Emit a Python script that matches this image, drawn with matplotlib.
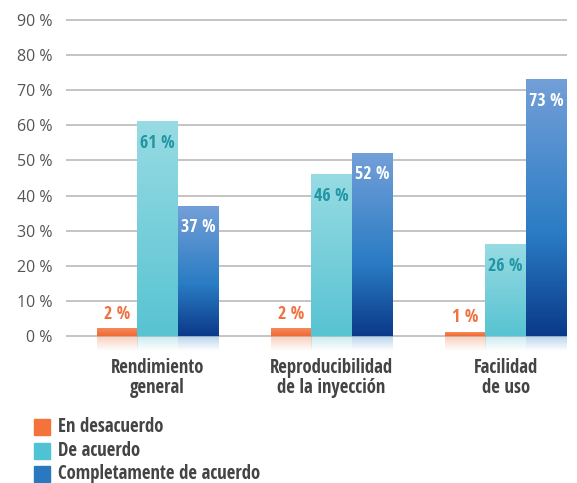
import numpy as np
import matplotlib
matplotlib.use("Agg")
import matplotlib.pyplot as plt
from matplotlib.colors import LinearSegmentedColormap, to_rgb
from matplotlib.patches import Rectangle

categories = ["Rendimiento\ngeneral", "Reproducibilidad\nde la inyección", "Facilidad\nde uso"]
series_names = ["En desacuerdo", "De acuerdo", "Completamente de acuerdo"]
desacuerdo = [2, 2, 1]
acuerdo = [61, 46, 26]
completamente = [37, 52, 73]
yticks = [0, 10, 20, 30, 40, 50, 60, 70, 80, 90]

series = [desacuerdo, acuerdo, completamente]
grad = [
    [(0, "#f58a5a"), (1, "#ef6a34")],
    [(0, "#97dbe3"), (1, "#58c3d2")],
    [(0, "#739fd8"), (0.6, "#2a7cc4"), (1, "#0b3a8a")],
]
legend_colors = ["#f4733a", "#4fc3d3", "#2a78c0"]
label_colors = ["#f07040", "#2295a2", "white"]

BOLD = ['Open Sans Condensed', 'PT Sans Narrow', 'DejaVu Sans']
REG = ['Open Sans', 'DejaVu Sans']
plt.rcParams['font.family'] = BOLD

fig = plt.figure(figsize=(5.77, 4.83), dpi=100)
ax = fig.add_axes([0.1144, 0.2716, 0.8683, 0.698])
ylo, yhi = -4.5, 91.5
xlo, xhi = -0.526, 2.353
ax.set_xlim(xlo, xhi)
ax.set_ylim(ylo, yhi)

for t in yticks:
    ax.axhline(t, color="#c4c4c4", lw=1.4, zorder=1)

w = 0.233
x = np.arange(len(categories))
for si, vals in enumerate(series):
    cmap = LinearSegmentedColormap.from_list("g%d" % si, grad[si])
    for gi, v in enumerate(vals):
        x0 = x[gi] + (si - 1) * w - w / 2
        g = np.linspace(0, 1, 200).reshape(-1, 1)
        ax.imshow(g, cmap=cmap, extent=(x0, x0 + w, 0, v), origin="upper",
                  aspect="auto", zorder=3, interpolation="bilinear")
        base = np.array(to_rgb(grad[si][-1][1] if si < 2 else grad[si][1][1]))
        refl = np.zeros((50, 1, 4))
        refl[:, 0, :3] = base
        refl[:, 0, 3] = np.linspace(0.35, 0.0, 50)
        ax.imshow(refl, extent=(x0, x0 + w, -4.3, 0), origin="upper",
                  aspect="auto", zorder=2, interpolation="bilinear")
        cx = x0 + w / 2
        if si == 0:
            ax.text(cx, v + 4.3, f"{v} %", ha="center", va="center", color=label_colors[si],
                    fontsize=13, fontweight="bold", zorder=5)
        else:
            ax.text(cx, v - 6.0, f"{v} %", ha="center", va="center", color=label_colors[si],
                    fontsize=13, fontweight="bold", zorder=5)

ax.set_xlim(xlo, xhi)
ax.set_ylim(ylo, yhi)
for s in ax.spines.values():
    s.set_visible(False)
ax.set_xticks([])
ax.set_yticks(yticks)
ax.set_yticklabels([f"{t} %" for t in yticks], fontsize=11.5, color="#555555", family=REG)
ax.tick_params(axis="y", length=0, pad=9.5)

for gi, c in enumerate(categories):
    ax.text(x[gi], -6.2, c, ha="center", va="top", fontsize=13.5, fontweight="bold",
            color="#444444", linespacing=1.0, clip_on=False)

for i, (name, col) in enumerate(zip(series_names, legend_colors)):
    yc = 1 - (427 + i * 23.5) / 483
    fig.patches.append(Rectangle((34 / 577, yc - 8 / 483), 16 / 577, 16 / 483,
                                 transform=fig.transFigure, color=col))
    fig.text(58 / 577, yc, name, ha="left", va="center", fontsize=13.5,
             fontweight="bold", color="#444444")

fig.savefig("out.png", dpi=100)
